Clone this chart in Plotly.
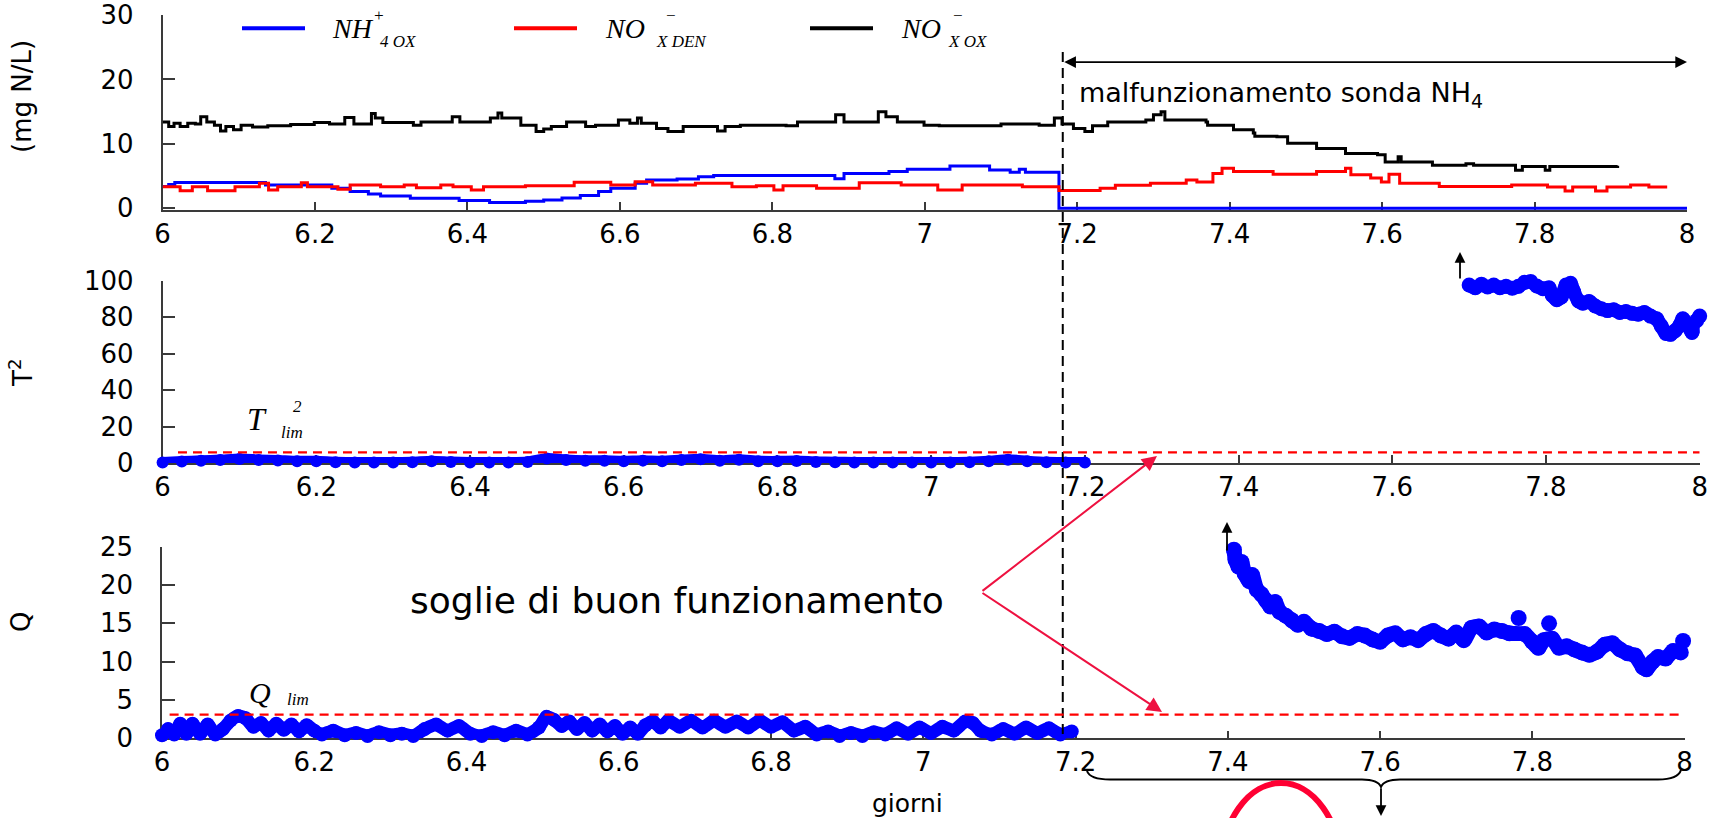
import plotly.graph_objects as go

W, H = 1717, 818


def fx(x):
    """pixel column -> paper fraction"""
    return x / W


def fy(y):
    """pixel row (counted from the top) -> paper fraction"""
    return 1 - y / H


SANS = "DejaVu Sans"
SERIF = "Liberation Serif"
BLUE = "#0000ff"
RED = "#ff0000"
CRIMSON = "#ee1140"
AXIS = "#3a3a3a"

# ---------------------------------------------------------------- ticks
day_ticks = [6, 6.2, 6.4, 6.6, 6.8, 7, 7.2, 7.4, 7.6, 7.8, 8]
day_labels = ["6", "6.2", "6.4", "6.6", "6.8", "7", "7.2", "7.4", "7.6", "7.8", "8"]
conc_ticks = [0, 10, 20, 30]
t2_ticks = [0, 20, 40, 60, 80, 100]
q_ticks = [0, 5, 10, 15, 20, 25]

# ---------------------------------------------------------------- thresholds / events
T2_LIM = 5.8
Q_LIM = 3.1
FAULT_START = 7.181          # NH4 probe stops working
FAULT_ARROW_Y = 22.7         # height of the double arrow (mg N/L)

# ---------------------------------------------------------------- concentrations (step signals)
nh4_ox = [(6.000, 3.4), (6.008, 3.7), (6.016, 4.0), (6.135, 3.6), (6.222, 3.1), (6.246, 2.6),
          (6.270, 2.2), (6.286, 1.9), (6.325, 1.55), (6.389, 1.2), (6.429, 0.9), (6.476, 1.1),
          (6.500, 1.3), (6.524, 1.6), (6.548, 2.0), (6.572, 2.6), (6.588, 3.1), (6.620, 3.9),
          (6.635, 4.4), (6.675, 4.55), (6.703, 4.9), (6.723, 5.1), (6.882, 4.6), (6.894, 5.4),
          (6.953, 5.7), (6.977, 6.05), (7.033, 6.55), (7.085, 5.95), (7.112, 5.6), (7.124, 6.05),
          (7.132, 5.6), (7.176, 0.0), (8.000, 0.0)]

nox_den = [(6.000, 3.36), (6.023, 2.74), (6.039, 3.36), (6.059, 2.74), (6.095, 3.36), (6.127, 3.88),
           (6.139, 2.85), (6.151, 3.36), (6.182, 3.98), (6.190, 3.36), (6.230, 2.95), (6.246, 3.62),
           (6.286, 3.36), (6.317, 3.62), (6.333, 3.2), (6.365, 3.62), (6.381, 3.36), (6.405, 2.85),
           (6.421, 3.36), (6.476, 3.5), (6.540, 4.03), (6.588, 3.62), (6.620, 4.13), (6.643, 3.62),
           (6.699, 3.88), (6.747, 3.36), (6.779, 3.5), (6.802, 2.85), (6.814, 3.5), (6.858, 3.1),
           (6.914, 3.98), (6.969, 3.62), (7.017, 2.85), (7.049, 3.62), (7.128, 3.36), (7.176, 2.75),
           (7.230, 3.1), (7.250, 3.57), (7.296, 3.9), (7.343, 4.4), (7.357, 4.1), (7.378, 5.4),
           (7.390, 6.2), (7.405, 5.7), (7.457, 5.3), (7.514, 5.7), (7.552, 6.2), (7.559, 5.2),
           (7.585, 4.7), (7.599, 4.1), (7.609, 5.3), (7.623, 3.9), (7.675, 3.4), (7.770, 3.6),
           (7.817, 3.3), (7.840, 2.7), (7.850, 3.3), (7.880, 2.7), (7.895, 3.3), (7.926, 3.6),
           (7.950, 3.3), (7.974, 3.3)]

nox_ox = [(6.000, 13.4), (6.008, 12.7), (6.015, 13.2), (6.023, 12.7), (6.033, 13.2), (6.043, 13.1),
          (6.050, 14.2), (6.058, 13.4), (6.068, 12.9), (6.076, 12.0), (6.083, 12.7), (6.093, 12.2),
          (6.103, 12.9), (6.118, 12.6), (6.138, 12.8), (6.168, 13.0), (6.199, 13.3), (6.219, 13.1),
          (6.239, 14.1), (6.251, 13.1), (6.274, 14.7), (6.279, 14.0), (6.289, 13.3), (6.329, 12.9),
          (6.339, 13.4), (6.380, 14.2), (6.390, 13.4), (6.430, 14.0), (6.440, 14.8), (6.445, 14.0),
          (6.470, 12.9), (6.490, 11.9), (6.500, 12.3), (6.510, 12.7), (6.530, 13.4), (6.555, 12.7),
          (6.568, 12.9), (6.598, 13.7), (6.613, 13.2), (6.623, 14.0), (6.628, 13.2), (6.648, 12.4),
          (6.663, 11.9), (6.683, 12.7), (6.728, 12.0), (6.738, 12.7), (6.758, 12.9), (6.818, 12.8),
          (6.833, 13.4), (6.883, 14.5), (6.894, 13.4), (6.939, 15.0), (6.949, 14.2), (6.964, 13.4),
          (6.999, 12.9), (7.019, 12.8), (7.100, 13.1), (7.150, 12.9), (7.170, 14.0), (7.180, 13.1),
          (7.195, 12.4), (7.210, 11.9), (7.220, 12.8), (7.240, 13.4), (7.290, 13.7), (7.300, 14.5),
          (7.310, 15.0), (7.315, 13.7), (7.369, 13.4), (7.371, 12.9), (7.405, 12.2), (7.431, 11.7),
          (7.433, 11.2), (7.462, 11.1), (7.476, 10.1), (7.514, 9.3), (7.552, 8.5), (7.594, 8.3),
          (7.604, 7.2), (7.621, 8.0), (7.625, 7.2), (7.666, 6.7), (7.710, 6.9), (7.720, 6.7),
          (7.775, 5.9), (7.784, 6.5), (7.814, 5.9), (7.820, 6.5), (7.909, 6.6)]

# ---------------------------------------------------------------- T2 statistic
# (between the two runs the statistic is above the plotted range)
t2_left = [(6.000, 0.3), (6.025, 0.8), (6.050, 1.2), (6.075, 1.6), (6.100, 2.2), (6.125, 1.7),
           (6.150, 1.4), (6.175, 0.9), (6.200, 1.0), (6.225, 0.4), (6.250, 0.3), (6.275, 0.3),
           (6.300, 0.3), (6.325, 0.4), (6.350, 1.0), (6.375, 0.5), (6.400, 0.3), (6.425, 0.3),
           (6.450, 0.3), (6.475, 0.6), (6.500, 2.4), (6.525, 1.6), (6.550, 1.2), (6.575, 1.2),
           (6.600, 1.0), (6.625, 1.3), (6.650, 1.0), (6.675, 1.6), (6.700, 2.0), (6.725, 1.2),
           (6.750, 1.8), (6.775, 1.0), (6.800, 0.9), (6.825, 1.1), (6.850, 0.6), (6.875, 0.4),
           (6.900, 0.3), (6.925, 0.3), (6.950, 0.3), (6.975, 0.3), (7.000, 0.3), (7.025, 0.3),
           (7.050, 0.4), (7.075, 0.9), (7.100, 1.8), (7.125, 1.0), (7.150, 0.4), (7.175, 0.3),
           (7.200, 0.3)]

t2_right = [(7.700, 97.5), (7.708, 96.0), (7.716, 98.0), (7.724, 96.5), (7.732, 97.5), (7.740, 96.0),
            (7.748, 96.8), (7.756, 95.8), (7.764, 96.8), (7.772, 99.0), (7.780, 99.5), (7.788, 97.0),
            (7.796, 95.5), (7.804, 96.0), (7.808, 92.0), (7.814, 89.5), (7.820, 91.0), (7.826, 97.5),
            (7.832, 98.5), (7.836, 94.0), (7.842, 89.0), (7.848, 87.5), (7.856, 88.5), (7.864, 86.0),
            (7.872, 84.5), (7.880, 83.5), (7.888, 84.0), (7.896, 82.5), (7.904, 83.0), (7.912, 82.0),
            (7.920, 81.5), (7.928, 82.5), (7.936, 80.5), (7.944, 79.0), (7.950, 75.0), (7.956, 71.0),
            (7.962, 70.5), (7.968, 72.5), (7.974, 75.5), (7.978, 79.0), (7.984, 76.0), (7.990, 71.5),
            (7.996, 78.0), (8.000, 80.5)]

# ---------------------------------------------------------------- Q statistic
q_left = [(6.000, 0.4), (6.008, 1.2), (6.016, 0.5), (6.024, 1.9), (6.032, 0.6), (6.040, 1.9),
          (6.050, 0.6), (6.060, 1.8), (6.070, 0.5), (6.080, 1.2), (6.090, 2.3), (6.100, 2.9),
          (6.110, 2.6), (6.120, 1.5), (6.130, 2.0), (6.140, 1.0), (6.150, 1.9), (6.160, 1.1),
          (6.170, 1.8), (6.180, 0.9), (6.190, 1.7), (6.200, 1.0), (6.210, 0.5), (6.225, 1.0),
          (6.240, 0.4), (6.255, 0.7), (6.270, 0.3), (6.285, 0.8), (6.300, 0.4), (6.315, 0.6),
          (6.330, 0.3), (6.345, 1.2), (6.360, 1.8), (6.375, 1.0), (6.390, 1.6), (6.405, 0.6),
          (6.420, 0.3), (6.435, 0.8), (6.450, 0.4), (6.465, 1.0), (6.480, 0.5), (6.495, 1.4),
          (6.505, 2.8), (6.515, 2.4), (6.525, 1.6), (6.535, 2.2), (6.545, 1.2), (6.555, 2.0),
          (6.565, 1.0), (6.575, 1.8), (6.585, 0.9), (6.595, 1.6), (6.605, 0.6), (6.615, 1.4),
          (6.625, 0.6), (6.635, 1.7), (6.645, 2.2), (6.655, 1.4), (6.665, 2.3), (6.680, 1.5),
          (6.695, 2.3), (6.710, 1.4), (6.725, 2.3), (6.740, 1.5), (6.755, 2.2), (6.770, 1.4),
          (6.785, 2.3), (6.800, 1.5), (6.815, 2.1), (6.830, 1.0), (6.845, 1.5), (6.860, 0.5),
          (6.875, 0.9), (6.890, 0.3), (6.905, 0.7), (6.920, 0.3), (6.935, 0.8), (6.950, 0.5),
          (6.965, 1.3), (6.980, 0.6), (6.995, 1.4), (7.010, 0.7), (7.025, 1.5), (7.040, 1.0),
          (7.055, 2.2), (7.065, 2.0), (7.075, 1.0), (7.090, 0.5), (7.105, 1.2), (7.120, 0.6),
          (7.135, 1.4), (7.150, 0.7), (7.165, 1.3), (7.180, 0.5), (7.195, 0.9)]

q_right = [(7.408, 24.6), (7.410, 23.3), (7.414, 22.4), (7.418, 23.0), (7.422, 21.5), (7.428, 20.5),
           (7.432, 21.3), (7.438, 19.4), (7.444, 18.8), (7.450, 18.0), (7.456, 17.2), (7.462, 17.8),
           (7.468, 16.5), (7.476, 16.0), (7.484, 15.4), (7.492, 14.8), (7.500, 15.2), (7.510, 14.3),
           (7.520, 14.0), (7.530, 13.6), (7.540, 13.9), (7.550, 13.3), (7.560, 13.1), (7.570, 13.6),
           (7.580, 13.4), (7.590, 12.9), (7.600, 12.6), (7.610, 13.4), (7.620, 13.7), (7.630, 12.9),
           (7.640, 13.2), (7.650, 12.8), (7.660, 13.6), (7.670, 14.0), (7.680, 13.4), (7.690, 13.0),
           (7.700, 13.8), (7.710, 12.8), (7.720, 14.4), (7.730, 14.6), (7.740, 13.8), (7.750, 14.2),
           (7.760, 14.0), (7.770, 13.7), (7.790, 13.6), (7.800, 12.6), (7.808, 11.8), (7.815, 12.8),
           (7.826, 13.0), (7.835, 11.8), (7.845, 12.0), (7.855, 11.6), (7.865, 11.2), (7.875, 10.9),
           (7.885, 11.3), (7.895, 12.2), (7.905, 12.4), (7.915, 11.6), (7.925, 11.1), (7.935, 10.8),
           (7.945, 9.3), (7.950, 9.0), (7.958, 10.0), (7.965, 10.6), (7.975, 10.4), (7.985, 11.4),
           (7.995, 11.2)]
q_isolated = [(7.782, 15.7), (7.822, 15.0), (7.998, 12.7)]


def split(pairs):
    return [p[0] for p in pairs], [p[1] for p in pairs]


fig = go.Figure()

# ---- top panel: concentrations
for pairs, color in ((nh4_ox, BLUE), (nox_den, RED), (nox_ox, "black")):
    dx, dv = split(pairs)
    fig.add_trace(go.Scatter(x=dx, y=dv, mode="lines", xaxis="x", yaxis="y",
                             line=dict(color=color, width=3, shape="hv"),
                             showlegend=False, hoverinfo="skip"))


def blob_trace(pairs, xa, ya, width, size):
    dx, dv = split(pairs)
    return go.Scatter(x=dx, y=dv, mode="lines+markers", xaxis=xa, yaxis=ya,
                      line=dict(color=BLUE, width=width, shape="spline", smoothing=0.6),
                      marker=dict(color=BLUE, size=size, line=dict(width=0)),
                      cliponaxis=False, showlegend=False, hoverinfo="skip")


# ---- middle panel: T2
fig.add_trace(blob_trace(t2_left, "x2", "y2", 11, 12))
fig.add_trace(blob_trace(t2_right, "x2", "y2", 14, 15))

# ---- bottom panel: Q
fig.add_trace(blob_trace(q_left, "x3", "y3", 13, 14))
fig.add_trace(blob_trace(q_right, "x3", "y3", 15, 16))
qi_x, qi_v = split(q_isolated)
fig.add_trace(go.Scatter(x=qi_x, y=qi_v, mode="markers", xaxis="x3", yaxis="y3",
                         marker=dict(color=BLUE, size=16, line=dict(width=0)),
                         cliponaxis=False, showlegend=False, hoverinfo="skip"))

tickfont = dict(family=SANS, size=26, color="black")


def xaxis_cfg(left, right, anchor):
    return dict(domain=[fx(left), fx(right)], anchor=anchor, range=[6, 8],
                tickmode="array", tickvals=day_ticks, ticktext=day_labels,
                ticks="inside", ticklen=8, tickwidth=1.5, tickcolor=AXIS,
                showline=True, linecolor=AXIS, linewidth=1.5, showgrid=False,
                zeroline=False, tickfont=tickfont, layer="below traces",
                ticklabelstandoff=0, automargin=False, fixedrange=True)


def yaxis_cfg(bottom_px, top_px, rng, ticks, anchor):
    return dict(domain=[fy(bottom_px), fy(top_px)], anchor=anchor, range=rng,
                tickmode="array", tickvals=ticks, ticks="inside", ticklen=13,
                tickwidth=1.5, tickcolor=AXIS, showline=True, linecolor=AXIS,
                linewidth=1.5, showgrid=False, zeroline=False, tickfont=tickfont,
                layer="below traces", ticklabelstandoff=22, automargin=False,
                fixedrange=True)


# pixel scale of the top panel: 0 -> 208.3, 30 -> 15
top_ppu = (208.3 - 15) / 30

shapes = []
# fault marker across all three panels
shapes.append(dict(type="line", xref="x", yref="paper", x0=FAULT_START, x1=FAULT_START,
                   y0=fy(52), y1=fy(738), line=dict(color="black", width=2, dash="10px,6px")))
# control limits
shapes.append(dict(type="line", xref="x2", yref="y2", x0=6.02, x1=8.0, y0=T2_LIM, y1=T2_LIM,
                   line=dict(color=RED, width=2.2, dash="9px,6px")))
shapes.append(dict(type="line", xref="x3", yref="y3", x0=6.01, x1=8.0, y0=Q_LIM, y1=Q_LIM,
                   line=dict(color=RED, width=2.2, dash="9px,6px")))
# legend samples
for x0, x1, color in ((242, 305, BLUE), (514, 577, RED), (810, 873, "black")):
    shapes.append(dict(type="line", xref="paper", yref="paper", x0=fx(x0), x1=fx(x1),
                       y0=fy(28.3), y1=fy(28.3), line=dict(color=color, width=4)))


def P(x, y):
    return f"{fx(x):.5f},{fy(y):.5f}"


brace = (f"M {P(1087, 771)} Q {P(1090, 779.5)} {P(1110, 779.5)} L {P(1362, 779.5)} "
         f"Q {P(1378, 779.5)} {P(1381, 787)} Q {P(1384, 779.5)} {P(1400, 779.5)} "
         f"L {P(1658, 779.5)} Q {P(1678, 779.5)} {P(1681, 770)}")
shapes.append(dict(type="path", xref="paper", yref="paper", path=brace,
                   line=dict(color="black", width=2)))
shapes.append(dict(type="circle", xref="paper", yref="paper", x0=fx(1221), x1=fx(1341),
                   y0=fy(955), y1=fy(783), line=dict(color="#ff0033", width=6)))

ann = []


def text(x, y, s, size, family=SANS, xanchor="center", angle=0):
    ann.append(dict(x=fx(x), y=fy(y), xref="paper", yref="paper", text=s, showarrow=False,
                    font=dict(family=family, size=size, color="black"),
                    xanchor=xanchor, yanchor="middle", textangle=angle))


def arrow(tip, tail, color, width, size=1.2):
    ann.append(dict(x=fx(tip[0]), y=fy(tip[1]), xref="paper", yref="paper",
                    ax=tail[0] - tip[0], ay=tail[1] - tip[1], axref="pixel", ayref="pixel",
                    text="", font=dict(size=1), showarrow=True, arrowhead=2,
                    arrowsize=size, arrowwidth=width, arrowcolor=color))


# axis titles
text(22, 97, "(mg N/L)", 26, angle=-90)
text(21, 373, "T<sup>2</sup>", 26, angle=-90)
text(21, 622, "Q", 26, angle=-90)
text(908, 803, "giorni", 25)

# legend labels
text(330, 28, "<i>NH</i>", 28, SERIF, xanchor="left")
text(378, 16, "<i>+</i>", 17, SERIF)
text(378, 42, "<i>4 OX</i>", 17, SERIF, xanchor="left")
text(603, 29, "<i>NO</i>", 28, SERIF, xanchor="left")
text(670, 16, "<i>\u2212</i>", 17, SERIF)
text(654, 42, "<i>X DEN</i>", 17, SERIF, xanchor="left")
text(899, 29, "<i>NO</i>", 28, SERIF, xanchor="left")
text(958, 16, "<i>\u2212</i>", 17, SERIF)
text(946, 42, "<i>X OX</i>", 17, SERIF, xanchor="left")

# limits labels
text(257, 419, "<i>T</i>", 32, SERIF)
text(297, 407, "<i>2</i>", 17, SERIF)
text(292, 432, "<i>lim</i>", 17, SERIF)
text(260, 692, "<i>Q</i>", 30, SERIF)
text(298, 699, "<i>lim</i>", 17, SERIF)

# notes
text(1077, 95, "malfunzionamento sonda NH<sub>4</sub>", 27, xanchor="left")
text(408, 600, "soglie di buon funzionamento", 36, xanchor="left")

# fault period double arrow (top panel coordinates)
ann.append(dict(x=8.0, y=FAULT_ARROW_Y, xref="x", yref="y", ax=FAULT_START, ay=FAULT_ARROW_Y,
                axref="x", ayref="y", text="", font=dict(size=1), showarrow=True,
                arrowside="end+start", arrowhead=2, startarrowhead=2, arrowsize=1.3,
                startarrowsize=1.3, arrowwidth=1.8, arrowcolor="black"))

# pointers from the note to the two limits
arrow((1157, 456), (981, 592), CRIMSON, 2, 1.5)
arrow((1162, 712), (981, 592), CRIMSON, 2, 1.5)
# off-scale indicators
arrow((1460, 252), (1460, 280), "black", 1.8, 1.2)
arrow((1227, 522), (1227, 552), "black", 1.8, 1.2)
arrow((1381, 816), (1381, 787), "black", 1.8, 1.2)

fig.update_layout(
    width=W, height=H,
    margin=dict(l=0, r=0, t=0, b=0, pad=0, autoexpand=False),
    paper_bgcolor="white", plot_bgcolor="white", showlegend=False,
    xaxis=xaxis_cfg(162.6, 1687, "y"),
    yaxis=yaxis_cfg(208.3 + 0.25 * top_ppu, 15, [-0.25, 30], conc_ticks, "x"),
    xaxis2=xaxis_cfg(162.6, 1699.7, "y2"),
    yaxis2=yaxis_cfg(463, 280.5, [0, 100], t2_ticks, "x2"),
    xaxis3=xaxis_cfg(162.0, 1684.6, "y3"),
    yaxis3=yaxis_cfg(738.3, 546.7, [0, 25], q_ticks, "x3"),
    shapes=shapes, annotations=ann,
)

fig.write_html("out.html")
